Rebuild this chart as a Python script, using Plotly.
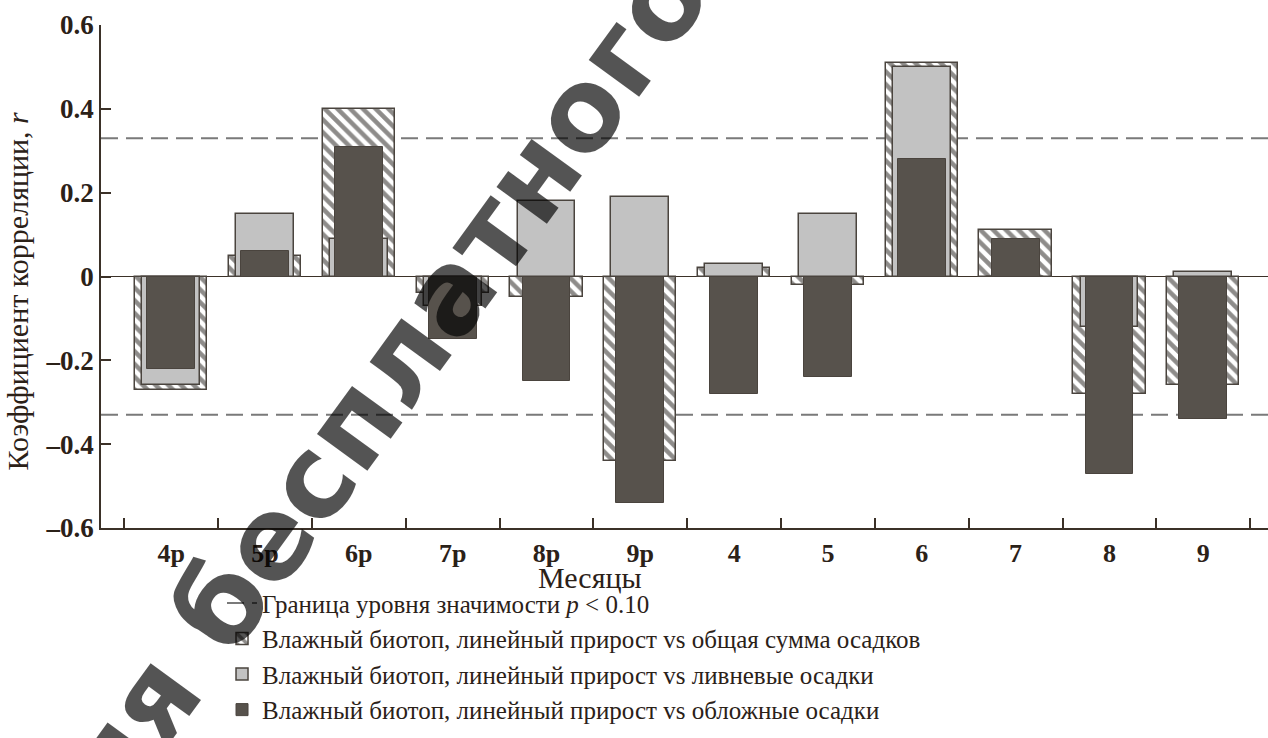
import plotly.graph_objects as go

# Months of the previous year (suffix "р") and of the current year
months = ["4р", "5р", "6р", "7р", "8р", "9р", "4", "5", "6", "7", "8", "9"]

# Correlation coefficients, wet biotope, linear increment
r_total = [-0.27, 0.05, 0.40, -0.04, -0.05, -0.44, 0.02, -0.02, 0.51, 0.11, -0.28, -0.26]
r_shower = [-0.26, 0.15, 0.09, -0.07, 0.18, 0.19, 0.03, 0.15, 0.50, 0.00, -0.12, 0.01]
r_steady = [-0.22, 0.06, 0.31, -0.15, -0.25, -0.54, -0.28, -0.24, 0.28, 0.09, -0.47, -0.34]

# Significance bounds, p < 0.10
signif_bounds = [0.33, -0.33]

y_tick_vals = [-0.6, -0.4, -0.2, 0, 0.2, 0.4, 0.6]
y_tick_text = ["–0.6", "–0.4", "–0.2", "0", "0.2", "0.4", "0.6"]

name_total = "Влажный биотоп, линейный прирост vs общая сумма осадков"
name_shower = "Влажный биотоп, линейный прирост vs ливневые осадки"
name_steady = "Влажный биотоп, линейный прирост vs обложные осадки"
name_bound = "Граница уровня значимости <i>p</i> &lt; 0.10"

INK = "#2b2118"
AXIS = "#3b3128"
EDGE = "#4a443e"
SERIF = "Liberation Serif"

fig = go.Figure()

fig.add_trace(go.Bar(
    x=months, y=r_total, name=name_total, width=0.77, legendrank=2,
    marker=dict(color="white", line=dict(color=EDGE, width=1.5),
                pattern=dict(shape="\\", fgcolor="#1e1a16", bgcolor="white",
                             size=9, solidity=0.5)),
))
fig.add_trace(go.Bar(
    x=months, y=r_shower, name=name_shower, width=0.615, legendrank=3,
    marker=dict(color="#c2c2c2", line=dict(color=EDGE, width=1.5)),
))
fig.add_trace(go.Bar(
    x=months, y=r_steady, name=name_steady, width=0.51, legendrank=4,
    marker=dict(color="#57524c", line=dict(color=EDGE, width=1)),
))

# Dashed significance bounds behind the bars
for i, b in enumerate(signif_bounds):
    fig.add_shape(
        type="line", xref="paper", yref="y", x0=0, x1=1, y0=b, y1=b,
        layer="below", line=dict(color="#7a7a7a", width=2, dash="17px,8px"),
        showlegend=(i == 0), name=name_bound, legendrank=1,
    )

# Y-axis title
fig.add_annotation(
    text="Коэффициент корреляции, <i>r</i>", xref="paper", yref="paper",
    x=-0.0711, y=0.47, xanchor="center", yanchor="middle",
    textangle=-90, showarrow=False,
    font=dict(family=SERIF, size=30, color=INK),
)
# X-axis title
fig.add_annotation(
    text="Месяцы", xref="paper", yref="paper", x=0.419, y=-0.0988,
    xanchor="center", yanchor="middle", showarrow=False,
    font=dict(family=SERIF, size=30, color=INK),
)
# Diagonal watermark
fig.add_annotation(
    text="для бесплатного", xref="paper", yref="paper", x=0.2185, y=0.2152,
    xanchor="center", yanchor="middle", textangle=-54, showarrow=False,
    font=dict(family="DejaVu Sans", size=114, color="rgba(0,0,0,0.67)", weight="bold"),
)

fig.update_layout(
    width=1268, height=738,
    margin=dict(l=101, r=0, t=25, b=210),
    paper_bgcolor="white", plot_bgcolor="white",
    barmode="overlay", bargap=0,
    showlegend=True,
    legend=dict(
        x=0.1037, y=-0.1041, xanchor="left", yanchor="top",
        font=dict(family=SERIF, size=25, color=INK),
        bgcolor="rgba(0,0,0,0)", tracegroupgap=0, traceorder="normal",
    ),
    xaxis=dict(
        type="category", range=[-0.748, 11.69], tickson="boundaries",
        ticks="inside", ticklen=10, tickwidth=1.5, tickcolor=AXIS,
        showline=True, linecolor=AXIS, linewidth=1.5, showgrid=False,
        zeroline=False, ticklabelstandoff=1,
        tickfont=dict(family=SERIF, size=26, color=INK, weight="bold"),
    ),
    yaxis=dict(
        range=[-0.6, 0.6], tickvals=y_tick_vals, ticktext=y_tick_text,
        ticks="inside", ticklen=10, tickwidth=1.5, tickcolor=AXIS,
        showline=True, linecolor=AXIS, linewidth=1.5, showgrid=False,
        zeroline=True, zerolinecolor=AXIS, zerolinewidth=1.2,
        tickfont=dict(family=SERIF, size=27, color=INK, weight="bold"),
    ),
)

fig.write_html("out.html")
